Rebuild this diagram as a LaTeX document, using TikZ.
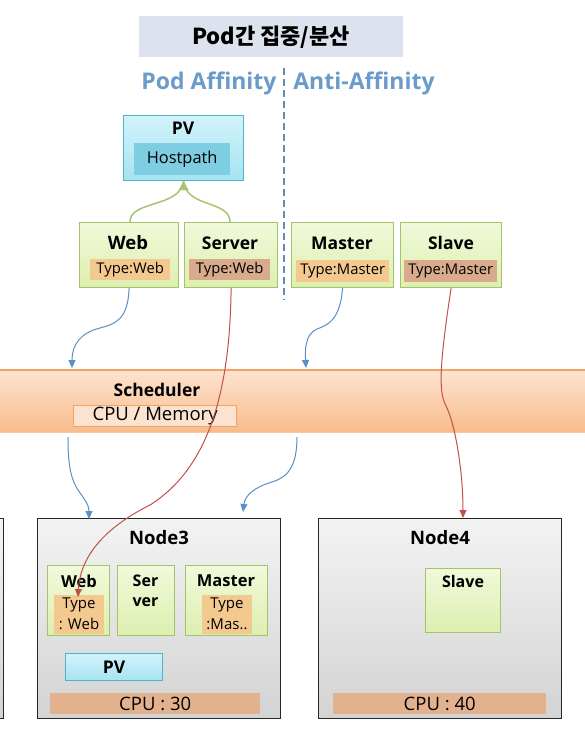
\documentclass[tikz,border=0pt]{standalone}
\usepackage{fontspec}
\setmainfont{Open Sans}
\newfontfamily\cjk{Noto Sans CJK KR}
\usetikzlibrary{arrows.meta}
\definecolor{titlebg}{HTML}{DCE3EE}
\definecolor{affin}{HTML}{6B9BC9}
\definecolor{podborder}{HTML}{A2C46A}
\definecolor{podtop}{HTML}{F1F9DA}
\definecolor{podbot}{HTML}{DDEFAF}
\definecolor{lblA}{HTML}{F3C98F}
\definecolor{lblB}{HTML}{D7AB8C}
\definecolor{pvborder}{HTML}{4FB3CB}
\definecolor{pvtop}{HTML}{D2F3FB}
\definecolor{pvbot}{HTML}{A6E3F1}
\definecolor{hostp}{HTML}{7FCDE0}
\definecolor{schtop}{HTML}{FCE3CF}
\definecolor{schbot}{HTML}{F9BC8A}
\definecolor{schborder}{HTML}{F1A468}
\definecolor{cpubar}{HTML}{E2B28F}
\definecolor{nodetop}{HTML}{F3F3F3}
\definecolor{nodebot}{HTML}{D3D3D3}
\definecolor{bluearr}{HTML}{5A8FC6}
\definecolor{redarr}{HTML}{C0504D}
\definecolor{greenarr}{HTML}{A9C46F}
\definecolor{dashc}{HTML}{6A8CA8}
\tikzset{
  rbox/.style={rectangle, inner sep=0pt, anchor=north west},
  pod/.style={rbox, draw=podborder, line width=1.2pt, top color=podtop, bottom color=podbot},
  pvbox/.style={rbox, draw=pvborder, line width=1.2pt, top color=pvtop, bottom color=pvbot},
  nodebox/.style={rbox, draw=black!85, line width=1pt, top color=nodetop, bottom color=nodebot},
  ttl/.style={font=\fontsize{17.5}{20}\selectfont\bfseries},
  hdr/.style={font=\fontsize{18.5}{20}\selectfont\bfseries},
  sml/.style={font=\fontsize{14.8}{17}\selectfont},
  big/.style={font=\fontsize{18.5}{20}\selectfont},
  blarr/.style={draw=bluearr, line width=1pt, -{Triangle[length=8pt,width=7pt]}},
  rdarr/.style={draw=redarr, line width=1pt, -{Triangle[length=8pt,width=7pt]}},
  grarr/.style={draw=greenarr, line width=1.5pt},
}
\newcommand\rect[6]{\node[#1, minimum width=#4-#2, minimum height=#5-#3] (#6) at (#2,#3) {};}
\begin{document}
\begin{tikzpicture}[x=1pt,y=-1pt]
\useasboundingbox (0,0) rectangle (584,742);
\fill[white] (0,0) rectangle (584,742);
% title
\rect{rbox, fill=titlebg}{139}{16}{403}{57}{title}
\node[font=\cjk\fontsize{22}{24}\selectfont\bfseries] (titletxt) at (271,37) {Pod간 집중/분산};
\node[font=\fontsize{23}{26}\selectfont\bfseries, text=affin] (paff) at (209,83) {Pod Affinity};
\node[font=\fontsize{23}{26}\selectfont\bfseries, text=affin] (anti) at (364,83) {Anti-Affinity};
\coordinate (d1) at (284,68); \coordinate (d2) at (284,300);
\draw[dashc, line width=1.2pt, dash pattern=on 7pt off 4pt] (d1) -- (d2);
% PV
\rect{pvbox}{123}{115}{243}{180}{pv}
\node[ttl] (pvt) at (183,128) {PV};
\rect{rbox, fill=hostp}{134}{143}{230}{175}{host}
\node[font=\fontsize{16.4}{18}\selectfont] (hostt) at (host.center) {Hostpath};
% pods
\rect{pod}{79}{222}{178}{287}{web}
\node[hdr] (webt) at (128,243) {Web};
\rect{rbox, fill=lblA}{90}{259}{170}{280}{webl}
\node[sml] at (webl.center) {Type:Web};
\rect{pod}{184}{222}{277}{287}{server}
\node[ttl] (servert) at (230,243) {Server};
\rect{rbox, fill=lblB}{189}{259}{270}{280}{serverl}
\node[sml] at (serverl.center) {Type:Web};
\rect{pod}{291}{222}{393}{287}{master}
\node[ttl] (mastert) at (342,243) {Master};
\rect{rbox, fill=lblA}{296}{260}{389}{282}{masterl}
\node[sml] at (masterl.center) {Type:Master};
\rect{pod}{400}{222}{501}{287}{slave}
\node[ttl] (slavet) at (451,243) {Slave};
\rect{rbox, fill=lblB}{404}{260}{497}{282}{slavel}
\node[sml] at (slavel.center) {Type:Master};
% green arcs
\coordinate (webtop) at (130,222);
\coordinate (srvtop) at (230,222);
\draw[grarr] (webtop) .. controls (130,200) and (180,208) .. (pv.south);
\draw[grarr] (srvtop) .. controls (230,200) and (186,208) .. (pv.south);
\fill[greenarr] (pv.south) -- ++(-5,9) -- ++(10,0) -- cycle;
% scheduler
\rect{rbox, top color=schtop, bottom color=schbot}{-2}{370}{586}{432}{sched}
\draw[schborder, line width=1.2pt] (sched.north west) -- (sched.north east);
\draw[schborder!60, line width=1pt] (sched.south west) -- (sched.south east);
\node[ttl] (schedt) at (157,390) {Scheduler};
\rect{rbox, draw=schborder, line width=1.2pt, fill=schtop}{73}{405}{236}{426}{cpumem}
\node[big] at (cpumem.center) {CPU / Memory};
% nodes
\rect{nodebox}{-240}{518}{3}{718}{node2}
\rect{nodebox}{37}{518}{280}{718}{node3}
\node[hdr] (n3t) at (159,538) {Node3};
\rect{nodebox}{318}{518}{561}{718}{node4}
\node[hdr] (n4t) at (440,538) {Node4};
% node3 content
\rect{pod}{47}{565}{109}{635}{nweb}
\node[font=\fontsize{16.5}{18}\selectfont\bfseries] at (79,581) {Web};
\rect{rbox, fill=lblA}{54}{595}{104}{634}{nwebl}
\node[align=center, font=\fontsize{15}{21}\selectfont] at (79,614) {Type\\: Web};
\rect{pod}{117}{565}{174}{635}{nser}
\node[align=center, font=\fontsize{16}{20}\selectfont\bfseries] at (145.5,591) {Ser\\ver};
\rect{pod}{185}{565}{267}{635}{nmas}
\node[font=\fontsize{16.5}{18}\selectfont\bfseries] at (226,581) {Master};
\rect{rbox, fill=lblA}{202}{595}{252}{634}{nmasl}
\node[align=center, font=\fontsize{15}{21}\selectfont] at (227,614) {Type\\:Mas..};
\rect{pvbox}{65}{653}{162}{680}{npv}
\node[ttl] at (npv.center) {PV};
\rect{rbox, fill=cpubar}{50}{693}{260}{714}{cpu3}
\node[big] at (cpu3.center) {CPU : 30};
% node4 content
\rect{pod}{425}{568}{500}{632}{nslave}
\node[font=\fontsize{16}{18}\selectfont\bfseries] at (463,581) {Slave};
\rect{rbox, fill=cpubar}{333}{693}{546}{714}{cpu4}
\node[big] at (cpu4.center) {CPU : 40};
% connectors
\coordinate (b1e) at (72,368);
\draw[blarr] (web.south) .. controls (128,320) and (115,324) .. (100,328) .. controls (80,333) and (72,345) .. (b1e);
\coordinate (b2e) at (306,368);
\draw[blarr] (master.south) .. controls (340,320) and (328,325) .. (317,329) .. controls (305,334) and (305,350) .. (b2e);
\coordinate (b3s) at (68,437);
\coordinate (b3e) at (89,519);
\draw[blarr] (b3s) .. controls (68,470) and (72,480) .. (78,490) .. controls (85,500) and (89,505) .. (b3e);
\coordinate (b4s) at (297,437);
\coordinate (b4e) at (243,512);
\draw[blarr] (b4s) .. controls (297,470) and (285,478) .. (272,482) .. controls (255,487) and (245,495) .. (b4e);
\coordinate (r1e) at (78,597);
\draw[rdarr] (server.south) .. controls (230,400) and (205,470) .. (150,505) .. controls (100,530) and (80,560) .. (r1e);
\draw[rdarr] (slave.south) .. controls (437,380) and (440,395) .. (447,408) .. controls (455,425) and (463,470) .. (node4.north -| 463,0);
\end{tikzpicture}
\end{document}
